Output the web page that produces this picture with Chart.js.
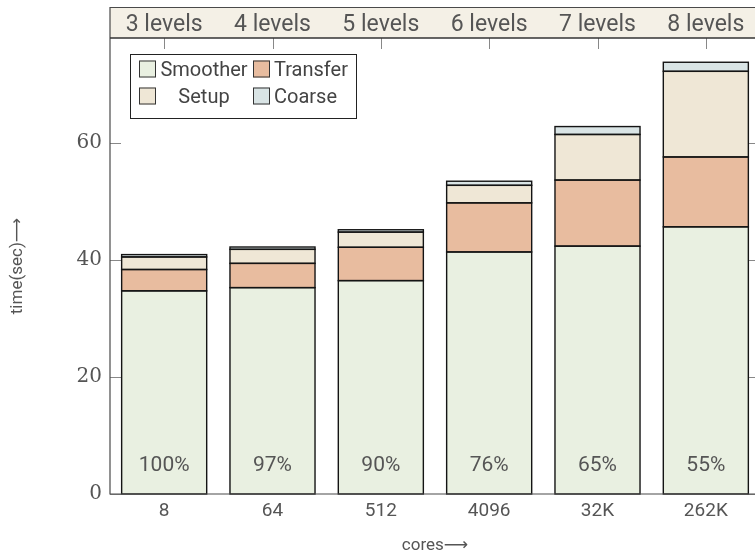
<!DOCTYPE html>
<html>
<head>
<meta charset="utf-8">
<script src="https://cdn.jsdelivr.net/npm/chart.js@4.4.1/dist/chart.umd.min.js"></script>
<style>
  html, body { margin: 0; padding: 0; background: #fff; width: 755px; height: 554px; overflow: hidden; }
  canvas { display: block; }
</style>
</head>
<body>
<canvas id="chart" width="760" height="554"></canvas>
<script>
// Multigrid run time breakdown per core count
const cores = ['8', '64', '512', '4096', '32K', '262K'];
const levels = ['3 levels', '4 levels', '5 levels', '6 levels', '7 levels', '8 levels'];
const efficiency = ['100%', '97%', '90%', '76%', '65%', '55%'];

const smoother = [34.75, 35.3, 36.5, 41.4, 42.4, 45.7];
const transfer = [3.65, 4.15, 5.7, 8.4, 11.3, 11.95];
const setup    = [2.15, 2.4, 2.6, 3.0, 7.8, 14.65];
const coarse   = [0.4, 0.4, 0.4, 0.7, 1.35, 1.55];

const yTicks = [0, 20, 40, 60];

const TEXT = '#555';
const SANS = 'Roboto, "DejaVu Sans", sans-serif';
Chart.defaults.font.family = SANS;

// Framed axes, the level strip along the top, inward tick marks
const framePlugin = {
  id: 'frame',
  beforeDraw(chart) {
    const { ctx, chartArea: a } = chart;
    ctx.save();
    ctx.fillStyle = '#f4f0e6';
    ctx.fillRect(a.left, 7, a.right - a.left, a.top - 7);
    ctx.restore();
  },
  beforeDatasetsDraw(chart) {
    const { ctx, chartArea: a, scales } = chart;
    ctx.save();
    ctx.strokeStyle = '#888';
    ctx.lineWidth = 1;
    ctx.beginPath();
    yTicks.forEach(v => {
      const y = Math.round(scales.y.getPixelForValue(v)) + 0.5;
      ctx.moveTo(a.left, y); ctx.lineTo(a.left + 11, y);
      ctx.moveTo(a.right - 11, y); ctx.lineTo(a.right, y);
    });
    cores.forEach((c, i) => {
      const x = Math.round(scales.x.getPixelForValue(i)) + 0.5;
      ctx.moveTo(x, a.top); ctx.lineTo(x, a.top + 11);
      ctx.moveTo(x, a.bottom); ctx.lineTo(x, a.bottom - 11);
    });
    ctx.stroke();
    ctx.restore();
  },
  afterDatasetsDraw(chart) {
    const { ctx, chartArea: a, scales } = chart;
    ctx.save();

    // outline every stacked segment with one shared edge
    ctx.strokeStyle = '#141414';
    ctx.lineWidth = 1.4;
    chart.data.datasets.forEach((ds, d) => {
      chart.getDatasetMeta(d).data.forEach(bar => {
        const left = bar.x - bar.width / 2;
        const top = Math.min(bar.y, bar.base);
        const h = Math.abs(bar.base - bar.y);
        ctx.strokeRect(left, top, bar.width, h);
      });
    });

    // axis box
    ctx.strokeStyle = '#4a4a4a';
    ctx.lineWidth = 1.2;
    ctx.beginPath();
    ctx.moveTo(a.left, 7.5); ctx.lineTo(a.right, 7.5);
    ctx.moveTo(a.left, 7); ctx.lineTo(a.left, a.bottom);
    ctx.lineTo(a.right, a.bottom); ctx.lineTo(a.right, 7);
    ctx.stroke();
    ctx.lineWidth = 1.4;
    ctx.strokeStyle = '#333';
    ctx.beginPath();
    ctx.moveTo(a.left, a.top); ctx.lineTo(a.right, a.top);
    ctx.stroke();

    // parallel efficiency inside each bar
    ctx.fillStyle = TEXT;
    ctx.font = '21px ' + SANS;
    ctx.textAlign = 'center';
    ctx.textBaseline = 'middle';
    const base = scales.y.getPixelForValue(0);
    chart.getDatasetMeta(0).data.forEach((bar, i) => {
      ctx.fillText(efficiency[i], bar.x, base - 28);
    });
    ctx.restore();
  },
  afterDraw(chart) {
    const { ctx } = chart;
    const box = { x: 130.5, y: 54.5, w: 226, h: 64 };
    ctx.save();
    ctx.fillStyle = '#fff';
    ctx.fillRect(box.x, box.y, box.w, box.h);
    ctx.strokeStyle = '#222';
    ctx.lineWidth = 1;
    ctx.strokeRect(box.x, box.y, box.w, box.h);

    const swatchX = [139, 253];
    const rowY = [69, 96];
    ctx.font = '20px ' + SANS;
    ctx.textBaseline = 'middle';
    chart.data.datasets.forEach((ds, i) => {
      const col = i % 2, row = Math.floor(i / 2);
      const sy = rowY[row] - 8.5;
      ctx.fillStyle = ds.backgroundColor;
      ctx.fillRect(swatchX[col], sy, 17, 17);
      ctx.strokeStyle = '#333';
      ctx.strokeRect(swatchX[col] + 0.5, sy + 0.5, 16, 16);
      ctx.fillStyle = '#444';
      if (col === 0) {
        ctx.textAlign = 'center';
        ctx.fillText(ds.label, 204, rowY[row] + 2);
      } else {
        ctx.textAlign = 'left';
        ctx.fillText(ds.label, 274, rowY[row] + 2);
      }
    });
    ctx.restore();
  }
};

new Chart(document.getElementById('chart'), {
  type: 'bar',
  data: {
    labels: cores,
    datasets: [
      { label: 'Smoother', data: smoother, backgroundColor: '#e9f0e1' },
      { label: 'Transfer', data: transfer, backgroundColor: '#e8bc9f' },
      { label: 'Setup',    data: setup,    backgroundColor: '#efe7d6' },
      { label: 'Coarse',   data: coarse,   backgroundColor: '#d9e4e5' }
    ]
  },
  options: {
    responsive: false,
    animation: false,
    devicePixelRatio: 1,
    layout: { padding: 0 },
    plugins: { legend: { display: false }, tooltip: { enabled: false } },
    datasets: {
      bar: {
        barPercentage: 0.785,
        categoryPercentage: 1,
        borderWidth: 0
      }
    },
    scales: {
      x: {
        type: 'category',
        position: 'bottom',
        stacked: true,
        offset: true,
        grid: { display: false, drawTicks: false },
        border: { display: false },
        ticks: { padding: 8, color: TEXT, font: { size: 19, lineHeight: 1 } },
        title: { display: true, text: 'cores⟶', color: TEXT, padding: 0, font: { size: 17, lineHeight: 1 } },
        afterFit: s => { s.height = 60; }
      },
      levels: {
        type: 'category',
        labels: levels,
        position: 'top',
        offset: true,
        grid: { display: false, drawTicks: false },
        border: { display: false },
        ticks: { padding: 1, color: TEXT, font: { size: 23, lineHeight: 1 } },
        afterFit: s => { s.height = 38; }
      },
      y: {
        stacked: true,
        min: 0,
        max: 78,
        grid: { display: false, drawTicks: false },
        border: { display: false },
        afterBuildTicks: s => { s.ticks = yTicks.map(v => ({ value: v })); },
        ticks: { padding: 8, color: TEXT, font: { family: '"DejaVu Serif", serif', size: 20 } },
        title: { display: true, text: 'time(sec)⟶', color: TEXT, padding: { top: 9, bottom: 0 }, font: { size: 17, lineHeight: 1 } },
        afterFit: s => { s.width = 110; }
      }
    }
  },
  plugins: [framePlugin]
});
</script>
</body>
</html>
